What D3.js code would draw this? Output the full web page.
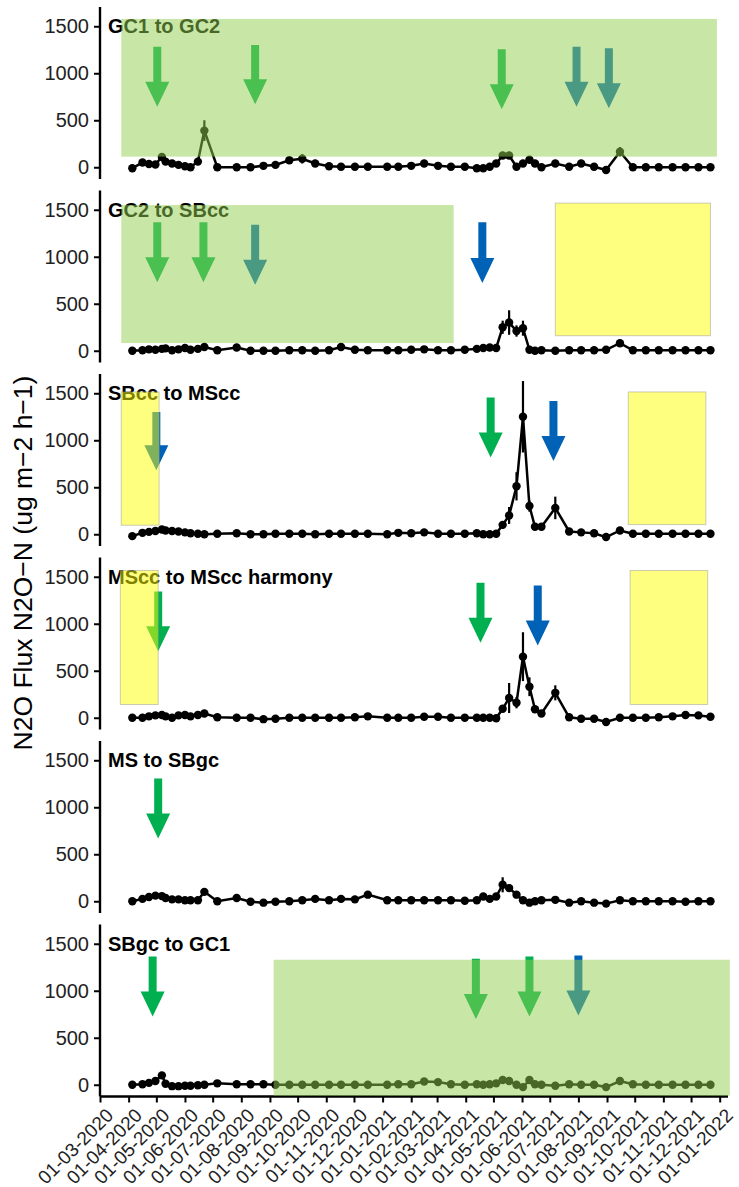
<!DOCTYPE html>
<html>
<head>
<meta charset="utf-8">
<script src="https://cdn.jsdelivr.net/npm/d3@7"></script>
<style>
body { margin: 0; background: #fff; }
text { font-family: "Liberation Sans", Arial, sans-serif; }
</style>
</head>
<body>
<svg id="chart" width="739" height="1187"></svg>
<script>
// sampling dates (same for every rotation)
var sampleDates = ["2020-04-05","2020-04-16","2020-04-23","2020-04-30","2020-05-07","2020-05-11","2020-05-18","2020-05-25","2020-06-01","2020-06-07","2020-06-15","2020-06-22",
  "2020-07-06","2020-07-27","2020-08-11","2020-08-25","2020-09-07","2020-09-22","2020-10-06","2020-10-20","2020-11-04","2020-11-17","2020-12-02","2020-12-16",
  "2021-01-06","2021-01-18","2021-02-01","2021-02-15","2021-03-02","2021-03-16","2021-03-31","2021-04-13","2021-04-20","2021-04-27",
  "2021-05-04","2021-05-11","2021-05-18","2021-05-26","2021-06-02","2021-06-09","2021-06-15","2021-06-22","2021-07-07","2021-07-22","2021-08-04","2021-08-18","2021-08-31","2021-09-15","2021-09-29","2021-10-13","2021-10-27","2021-11-11","2021-11-25","2021-12-09","2021-12-22"];

var panelNames = ["GC1 to GC2", "GC2 to SBcc", "SBcc to MScc", "MScc to MScc harmony", "MS to SBgc", "SBgc to GC1"];

// mean N2O flux per panel
var gc1ToGc2 = [-10,50,35,30,110,60,40,25,10,0,60,390, 0,0,0,15,25,75,90,40,10,5,5,5, 5,5,15,40,15,5,5,-10,-10,5, 40,125,125,5,40,80,40,0,40,5,40,5,-30,165,0,0,0,0,0,0,0];
var gc2ToSbcc = [0,5,15,10,20,25,5,15,30,10,20,40, 5,35,0,0,0,5,5,0,5,40,10,5, 5,5,10,15,5,5,10,20,30,35, 30,250,300,210,240,10,0,5,0,5,5,5,10,80,5,5,5,5,5,5,5];
var sbccToMscc = [-20,15,25,35,50,40,35,30,20,10,5,0, 5,10,0,0,5,5,5,0,5,5,5,5, 0,15,10,20,5,5,5,10,0,0, 5,100,200,510,1250,300,80,80,280,30,20,10,-30,40,5,5,5,5,5,5,5];
var msccToHarmony = [0,0,15,25,30,15,0,25,30,15,30,45, 5,0,0,-15,-10,0,0,0,0,0,5,15, 0,0,0,10,10,0,0,0,0,0, -5,95,210,160,650,330,90,45,265,5,-10,-10,-45,0,0,0,5,15,30,25,10];
var msToSbgc = [0,25,45,60,55,35,20,20,10,10,10,100, 0,35,-5,-15,-5,0,10,25,10,25,20,70, 10,10,10,10,10,10,5,10,50,25, 50,175,140,70,10,-15,0,10,15,-15,0,-15,-25,10,0,0,0,0,-5,0,0];
var sbgcToGc1 = [0,5,20,40,100,10,-15,-15,-10,-10,-5,0, 15,5,5,5,0,0,0,0,0,0,0,0, 0,5,5,35,28,5,0,5,0,5, 15,50,40,0,-25,50,5,0,-10,5,0,0,-25,40,5,0,0,0,0,0,0];

// standard errors
var gc1ToGc2Err = [10,15,15,10,30,15,10,10,10,10,20,110, 10,10,10,10,20,40,50,15,10,10,10,10, 10,10,10,15,10,10,10,10,10,10, 20,30,30,10,20,30,20,10,15,10,15,10,15,50,10,10,10,10,10,10,10];
var gc2ToSbccErr = [8,8,10,8,10,10,8,10,12,8,10,15, 8,10,8,8,8,8,8,8,8,15,8,8, 8,8,8,10,8,8,8,10,10,12, 10,70,130,60,80,10,8,8,8,8,8,8,8,40,8,8,8,8,8,8,8];
var sbccToMsccErr = [10,10,12,15,20,15,12,10,10,8,8,8, 8,8,8,8,8,8,8,8,8,8,8,8, 8,10,8,10,8,8,8,8,8,8, 8,40,90,150,380,60,20,20,120,15,10,8,15,15,8,8,8,8,8,8,8];
var msccToHarmonyErr = [8,8,10,10,12,10,8,10,10,8,10,15, 8,8,8,8,8,8,8,8,8,8,8,10, 8,8,8,8,8,8,8,8,8,8, 8,30,160,60,260,100,30,15,80,10,8,8,15,8,8,8,8,10,12,10,8];
var msToSbgcErr = [8,10,15,15,15,10,8,8,8,8,8,20, 8,10,8,8,8,8,8,10,8,10,8,15, 8,8,8,8,8,8,8,8,15,10, 15,80,40,20,8,8,8,8,8,8,8,8,8,8,8,8,8,8,8,8,8];
var sbgcToGc1Err = [8,8,10,15,20,8,8,8,8,8,8,8, 8,8,8,8,8,8,8,8,8,8,8,8, 8,8,8,10,10,8,8,8,8,8, 10,15,12,8,10,15,8,8,8,8,8,8,10,12,8,8,8,8,8,8,8];

var fluxes = [gc1ToGc2, gc2ToSbcc, sbccToMscc, msccToHarmony, msToSbgc, sbgcToGc1];
var errors = [gc1ToGc2Err, gc2ToSbccErr, sbccToMsccErr, msccToHarmonyErr, msToSbgcErr, sbgcToGc1Err];

// shaded periods: panel, from, to, low, high, colour
var boxes = [
  [0, "2020-03-24", "2021-12-29", 113, 1578, "green"],
  [1, "2020-03-24", "2021-03-19", 82, 1550, "green"],
  [1, "2021-07-07", "2021-12-22", 160, 1571, "yellow"],
  [2, "2020-03-24", "2020-05-04", 96, 1514, "yellow"],
  [2, "2021-09-24", "2021-12-17", 103, 1514, "yellow"],
  [3, "2020-03-23", "2020-05-03", 141, 1567, "yellow"],
  [3, "2021-09-26", "2021-12-19", 141, 1567, "yellow"],
  [5, "2020-09-05", "2022-01-12", -117, 1330, "green"]
];

// management arrows: panel, date, top, tip, colour
var arrows = [
  [0, "2020-05-02", 1283, 645, "green"],
  [0, "2020-08-16", 1301, 670, "green"],
  [0, "2021-05-10", 1255, 617, "green"],
  [0, "2021-07-30", 1283, 645, "blue"],
  [0, "2021-09-03", 1266, 628, "blue"],
  [1, "2020-05-02", 1366, 728, "green"],
  [1, "2020-06-21", 1366, 728, "green"],
  [1, "2020-08-16", 1340, 702, "blue"],
  [1, "2021-04-19", 1366, 720, "blue"],
  [2, "2020-05-01", 1300, 680, "blue"],
  [2, "2021-04-28", 1454, 816, "green"],
  [2, "2021-07-05", 1418, 780, "blue"],
  [3, "2020-05-03", 1344, 708, "green"],
  [3, "2021-04-17", 1436, 798, "green"],
  [3, "2021-06-18", 1407, 769, "blue"],
  [4, "2020-05-03", 1305, 667, "green"],
  [5, "2020-04-27", 1365, 727, "green"],
  [5, "2021-04-12", 1340, 699, "green"],
  [5, "2021-06-09", 1365, 727, "green"],
  [5, "2021-08-01", 1376, 737, "blue"]
];

var yTicks = [0, 500, 1000, 1500];

var colours = {green: "#00B050", blue: "#0062B6"};
var boxFill = {green: "#92D050", yellow: "#FFFF00"};

var parse = d3.timeParse("%Y-%m-%d");
var left = 100, right = 728, top0 = 7, panelH = 172, step = 183.5;

var xScale = d3.scaleTime().domain([parse("2020-03-01"), parse("2022-01-10")]).range([left, right]);

var svg = d3.select("#chart");

panelNames.forEach(function(name, p){
  var top = top0 + p * step;
  var yScale = d3.scaleLinear().domain([-125, 1705]).range([top + panelH, top]);
  var g = svg.append("g").attr("class", "panel");

  // axes first, the shading sits on top of them
  var yAxis = d3.axisLeft(yScale).tickValues(yTicks).tickSize(6).tickPadding(5).tickFormat(d3.format("d"));
  var ya = g.append("g").attr("transform", "translate(" + left + ",0)").call(yAxis);
  ya.select(".domain").attr("d", "M0," + top + "V" + (top + panelH)).style("stroke-width", 2.4);
  ya.selectAll(".tick line").style("stroke-width", 2);
  ya.selectAll("text").style("font-size", "20px").style("fill", "#222").style("font-family", "'Liberation Sans', Arial, sans-serif");

  if (p == panelNames.length - 1) {
    var axisY = top + panelH;
    var xAxis = d3.axisBottom(xScale)
      .tickValues(d3.timeMonth.range(parse("2020-03-01"), parse("2022-01-02")))
      .tickSize(6)
      .tickFormat(d3.timeFormat("%d-%m-%Y"));
    var xa = g.append("g").attr("transform", "translate(0," + axisY + ")").call(xAxis);
    xa.select(".domain").attr("d", "M" + left + ",0H" + right).style("stroke-width", 2.4);
    xa.selectAll(".tick line").style("stroke-width", 2);
    xa.selectAll("text")
      .attr("y", 0).attr("dy", 0)
      .attr("transform", "translate(14,20) rotate(-45)")
      .style("text-anchor", "end")
      .style("font-size", "19px")
      .style("fill", "#222")
      .style("font-family", "'Liberation Sans', Arial, sans-serif");
  }

  // arrows go under the shading
  g.selectAll("path.arrow")
    .data(arrows.filter(function(a){ return a[0] == p; }))
    .enter()
    .append("path")
    .attr("class", "arrow")
    .attr("d", function(a){
      var cx = xScale(parse(a[1])), y0 = yScale(a[2]), y1 = yScale(a[3]);
      var hy = y1 - 25;
      return "M" + (cx - 4) + "," + y0 + "L" + (cx + 4) + "," + y0 + "L" + (cx + 4) + "," + hy +
        "L" + (cx + 12) + "," + hy + "L" + cx + "," + y1 + "L" + (cx - 12) + "," + hy + "L" + (cx - 4) + "," + hy + "Z";
    })
    .style("fill", function(a){ return colours[a[4]]; });

  g.append("text")
    .attr("x", 108)
    .attr("y", top + 26)
    .style("font-size", "20px")
    .style("font-weight", "bold")
    .style("fill", "#000")
    .text(name);

  var pts = sampleDates.map(function(d, i){ return {date: parse(d), v: fluxes[p][i], e: errors[p][i]}; });

  g.selectAll("line.err")
    .data(pts)
    .enter()
    .append("line")
    .attr("class", "err")
    .attr("x1", function(d){ return xScale(d.date); })
    .attr("x2", function(d){ return xScale(d.date); })
    .attr("y1", function(d){ return yScale(d.v - d.e); })
    .attr("y2", function(d){ return yScale(d.v + d.e); })
    .style("stroke", "#000")
    .style("stroke-width", 2.2);

  var line = d3.line().x(function(d){ return xScale(d.date); }).y(function(d){ return yScale(d.v); });
  g.append("path")
    .datum(pts)
    .attr("d", line)
    .style("fill", "none")
    .style("stroke", "#000")
    .style("stroke-width", 2.5);

  g.selectAll("circle")
    .data(pts)
    .enter()
    .append("circle")
    .attr("r", 4.2)
    .attr("cx", function(d){ return xScale(d.date); })
    .attr("cy", function(d){ return yScale(d.v); })
    .style("fill", "#000");

  // translucent shading over everything
  g.selectAll("rect.box")
    .data(boxes.filter(function(b){ return b[0] == p; }))
    .enter()
    .append("rect")
    .attr("class", "box")
    .attr("x", function(b){ return xScale(parse(b[1])); })
    .attr("width", function(b){ return xScale(parse(b[2])) - xScale(parse(b[1])); })
    .attr("y", function(b){ return yScale(b[4]); })
    .attr("height", function(b){ return yScale(b[3]) - yScale(b[4]); })
    .style("fill", function(b){ return boxFill[b[5]]; })
    .style("fill-opacity", 0.5)
    .style("stroke", function(b){ return b[5] == "yellow" ? "#9a9a9a" : "none"; })
    .style("stroke-opacity", 0.5);
});

svg.append("text")
  .attr("transform", "translate(32,563) rotate(-90)")
  .style("text-anchor", "middle")
  .style("font-size", "26.5px")
  .style("fill", "#000")
  .text("N2O Flux N2O\u2212N (ug m\u22122 h\u22121)");
</script>
</body>
</html>
